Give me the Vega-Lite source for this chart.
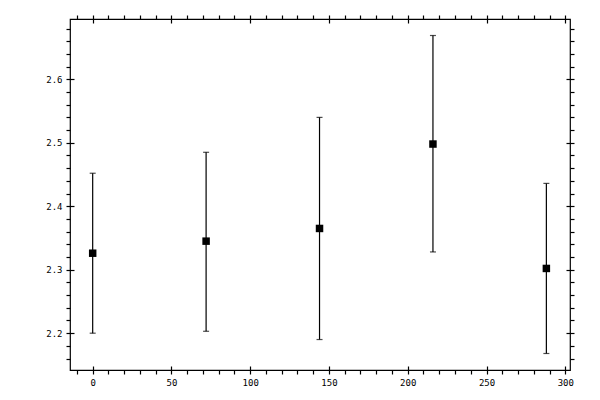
{
  "$schema": "https://vega.github.io/schema/vega-lite/v6.json",
  "width": 500,
  "height": 351,
  "autosize": "none",
  "padding": {"left": 70, "top": 19, "right": 30, "bottom": 30},
  "background": "white",
  "data": {
    "values": [
      {"x": 0, "y": 2.326, "lo": 2.2, "hi": 2.452},
      {"x": 72, "y": 2.345, "lo": 2.203, "hi": 2.485},
      {"x": 144, "y": 2.365, "lo": 2.19, "hi": 2.54},
      {"x": 216, "y": 2.498, "lo": 2.328, "hi": 2.669},
      {"x": 288, "y": 2.302, "lo": 2.168, "hi": 2.436}
    ]
  },
  "layer": [
    {
      "mark": {"type": "rule", "color": "black", "strokeWidth": 1.2},
      "encoding": {
        "x": {
          "field": "x", "type": "quantitative",
          "scale": {"domain": [-14.4, 303], "nice": false, "zero": false},
          "axis": {"orient": "bottom", "values": [0, 50, 100, 150, 200, 250, 300], "tickSize": 8, "offset": -4, "labelPadding": 4, "title": null}
        },
        "y": {
          "field": "lo", "type": "quantitative",
          "scale": {"domain": [2.142, 2.695], "nice": false, "zero": false},
          "axis": {"orient": "left", "values": [2.2, 2.3, 2.4, 2.5, 2.6], "format": ".1f", "tickSize": 8, "offset": -4, "labelPadding": 4, "title": null}
        },
        "y2": {"field": "hi"}
      }
    },
    {
      "mark": {"type": "tick", "orient": "horizontal", "color": "black", "size": 6, "thickness": 1.2},
      "encoding": {
        "x": {
          "field": "x", "type": "quantitative",
          "axis": {"orient": "top", "values": [0, 50, 100, 150, 200, 250, 300], "tickSize": 8, "offset": -4, "labels": false, "title": null}
        },
        "y": {
          "field": "lo", "type": "quantitative",
          "axis": {"orient": "right", "values": [2.2, 2.3, 2.4, 2.5, 2.6], "tickSize": 8, "offset": -4, "labels": false, "title": null}
        }
      }
    },
    {
      "mark": {"type": "tick", "orient": "horizontal", "color": "black", "size": 6, "thickness": 1.2},
      "encoding": {
        "x": {
          "field": "x", "type": "quantitative",
          "axis": {"orient": "bottom", "values": [-10, 10, 20, 30, 40, 60, 70, 80, 90, 110, 120, 130, 140, 160, 170, 180, 190, 210, 220, 230, 240, 260, 270, 280, 290], "tickSize": 4, "labels": false, "title": null}
        },
        "y": {
          "field": "hi", "type": "quantitative",
          "axis": {"orient": "left", "values": [2.16, 2.18, 2.22, 2.24, 2.26, 2.28, 2.32, 2.34, 2.36, 2.38, 2.42, 2.44, 2.46, 2.48, 2.52, 2.54, 2.56, 2.58, 2.62, 2.64, 2.66, 2.68], "tickSize": 4, "labels": false, "title": null}
        }
      }
    },
    {
      "mark": {"type": "point", "shape": "square", "filled": true, "color": "black", "opacity": 1, "size": 56},
      "encoding": {
        "x": {
          "field": "x", "type": "quantitative",
          "axis": {"orient": "top", "values": [-10, 10, 20, 30, 40, 60, 70, 80, 90, 110, 120, 130, 140, 160, 170, 180, 190, 210, 220, 230, 240, 260, 270, 280, 290], "tickSize": 4, "labels": false, "title": null}
        },
        "y": {
          "field": "y", "type": "quantitative",
          "axis": {"orient": "right", "values": [2.16, 2.18, 2.22, 2.24, 2.26, 2.28, 2.32, 2.34, 2.36, 2.38, 2.42, 2.44, 2.46, 2.48, 2.52, 2.54, 2.56, 2.58, 2.62, 2.64, 2.66, 2.68], "tickSize": 4, "labels": false, "title": null}
        }
      }
    }
  ],
  "resolve": {
    "scale": {"x": "shared", "y": "shared"},
    "axis": {"x": "independent", "y": "independent"}
  },
  "config": {
    "view": {"stroke": "black", "strokeWidth": 1.2},
    "axis": {
      "domain": false,
      "grid": false,
      "tickColor": "black",
      "tickWidth": 1.2,
      "labelFont": "DejaVu Sans Mono",
      "labelFontSize": 9,
      "labelColor": "black"
    }
  }
}
